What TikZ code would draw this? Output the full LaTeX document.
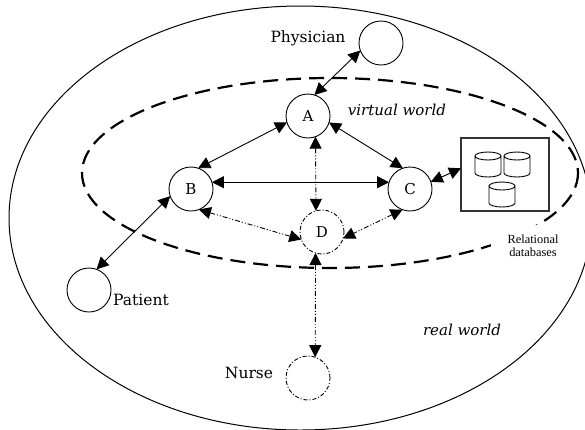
\documentclass[tikz,border=0pt]{standalone}
\usepackage{fontspec}
\setmainfont{DejaVu Serif}
\newfontfamily\timesf{Liberation Serif}
\usetikzlibrary{arrows.meta}
\tikzset{
  x=1pt,y=-1pt,
  solidc/.style={circle,draw,line width=0.9pt,minimum size=44pt,inner sep=0pt,outer sep=0pt,font=\fontsize{15}{17}\selectfont},
  dashc/.style={solidc,dash pattern=on 4pt off 2pt on 1pt off 2pt},
  lab/.style={inner sep=0pt,font=\fontsize{15.5}{17}\selectfont},
  ilab/.style={inner sep=0pt,font=\fontsize{15}{17}\selectfont\itshape},
  smalllab/.style={fill=white,inner sep=0pt,minimum width=84pt,minimum height=42pt,align=center,font=\timesf\fontsize{12.4}{13.5}\selectfont},
  conn/.style={line width=0.9pt,{Triangle[length=12pt,width=12pt]}-{Triangle[length=12pt,width=12pt]}},
  dconn/.style={conn,dash pattern=on 5pt off 2pt on 1pt off 2pt on 1pt off 2pt},
  world/.style={line width=1pt},
  vworld/.style={line width=2.2pt,dash pattern=on 15pt off 8pt},
  dbbox/.style={draw=black!80,line width=1.2pt,minimum width=88pt,minimum height=73pt,inner sep=0pt,outer sep=0pt},
  dbc/.style={line width=0.9pt}
}
\newcommand{\dbcyl}[2]{%
  \draw[dbc] (#1-13,#2+4) -- (#1-13,#2+21)
    arc[x radius=13,y radius=-4,start angle=180,end angle=360]
    -- (#1+13,#2+4)
    (#1,#2+4) ellipse[x radius=13,y radius=4];}
\begin{document}
\begin{tikzpicture}
\useasboundingbox (0,0) rectangle (585,429);
\draw[world] (300.3,218) ellipse[x radius=291.3,y radius=212];
\draw[vworld] (330,173) ellipse[x radius=248,y radius=95];
\node[solidc] (A) at (308,116) {A};
\node[solidc] (B) at (191,189) {B};
\node[solidc] (C) at (410,189) {C};
\node[dashc] (D) at (322,232) {D};
\node[solidc] (P) at (381,43) {};
\node[solidc] (Q) at (89,290) {};
\node[dashc] (N) at (308,378) {};
\node[dbbox] (DB) at (505,174.5) {};
\dbcyl{488}{152}
\dbcyl{517}{152}
\dbcyl{502}{182}
\node[lab] (tP) at (308,38) {Physician};
\node[lab] (tQ) at (141,300) {Patient};
\node[lab] (tN) at (249,373) {Nurse};
\node[ilab] (tV) at (397,110) {virtual world};
\node[ilab] (tR) at (462,330) {real world};
\node[smalllab] (tD) at (533,246) {Relational\\databases};
\draw[conn] (P.200) -- (A.73);
\draw[conn] (A.197) -- (B.71);
\draw[conn] (A.343) -- (C.109);
\draw[conn] (B.18) -- (C.162);
\draw[conn] (C.19) -- (DB.172);
\draw[conn] (B.199) -- (Q.70);
\draw[dconn] (A.290) -- (D.106);
\draw[dconn] (B.291) -- (D.200);
\draw[dconn] (C.250) -- (D.343);
\draw[dconn] (D.253) -- (N.71);
\end{tikzpicture}
\end{document}
